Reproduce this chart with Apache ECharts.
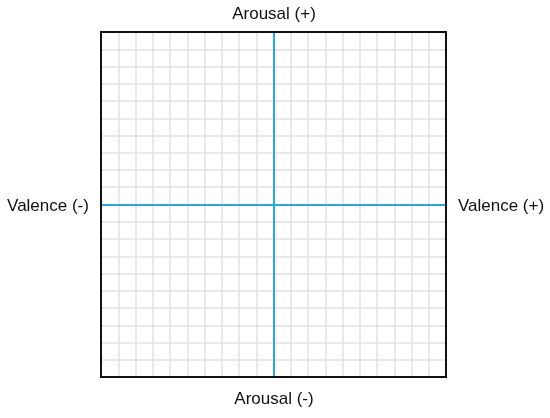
<!DOCTYPE html>
<html>
<head>
<meta charset="utf-8">
<script src="https://cdn.jsdelivr.net/npm/echarts@6/dist/echarts.min.js"></script>
<style>
  html, body { margin: 0; padding: 0; background: #fff; }
  #chart { width: 550px; height: 418px; }
</style>
</head>
<body>
<div id="chart"></div>
<script>
// 축 범위 (valence / arousal)
var valenceRange = [-10, 10];
var arousalRange = [-10, 10];
var gridStep = 1;

// 축 라벨
var axisLabels = {
	top: 'Arousal (+)',
	bottom: 'Arousal (-)',
	left: 'Valence (-)',
	right: 'Valence (+)'
};

var chart = echarts.init(document.getElementById('chart'));

var labelFont = {
	fontFamily: 'Liberation Sans, Arial, sans-serif',
	fontSize: 17,
	fill: '#111'
};

function makeText(text, x, y) {
	return {
		type: 'text',
		x: x,
		y: y,
		style: Object.assign({
			text: text,
			align: 'center',
			verticalAlign: 'middle'
		}, labelFont)
	};
}

var option = {
	animation: false,
	grid: {
		left: 101,
		top: 32,
		width: 345,
		height: 345,
		show: true,
		borderColor: '#111',
		borderWidth: 2,
		z: 10
	},
	xAxis: {
		type: 'value',
		min: valenceRange[0],
		max: valenceRange[1],
		interval: gridStep,
		axisLine: {
			onZero: true,
			lineStyle: { color: '#2aa8dc', width: 2 }
		},
		axisTick: { show: false },
		axisLabel: { show: false },
		splitLine: {
			show: true,
			lineStyle: { color: '#e2e2e2', width: 1.5 }
		}
	},
	yAxis: {
		type: 'value',
		min: arousalRange[0],
		max: arousalRange[1],
		interval: gridStep,
		axisLine: {
			onZero: true,
			lineStyle: { color: '#2aa8dc', width: 2 }
		},
		axisTick: { show: false },
		axisLabel: { show: false },
		splitLine: {
			show: true,
			lineStyle: { color: '#e2e2e2', width: 1.5 }
		}
	},
	graphic: [
		makeText(axisLabels.top, 274, 14),
		makeText(axisLabels.bottom, 274, 399),
		makeText(axisLabels.left, 48, 206),
		makeText(axisLabels.right, 501, 206)
	],
	series: []
};

chart.setOption(option);
</script>
</body>
</html>
